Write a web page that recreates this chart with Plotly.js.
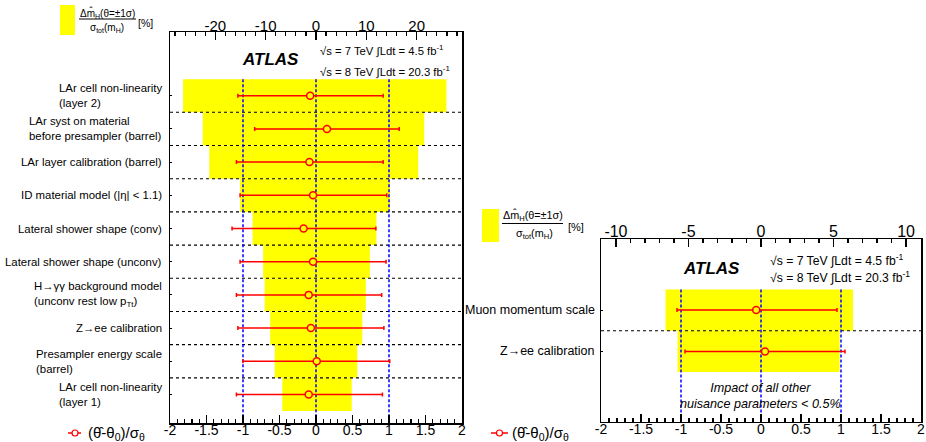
<!DOCTYPE html>
<html><head><meta charset="utf-8">
<script src="https://cdn.plot.ly/plotly-3.0.1.min.js"></script>
<style>html,body{margin:0;padding:0;background:#fff}#chart{width:926px;height:442px}</style>
</head><body><div id="chart"></div>
<script>
// ---------- DATA ----------
const categoriesA = [
  "LAr cell non-linearity<br>(layer 2)",
  "LAr syst on material<br>before presampler (barrel)",
  "LAr layer calibration (barrel)",
  "ID material model (|η| &lt; 1.1)",
  "Lateral shower shape (conv)",
  "Lateral shower shape (unconv)",
  "H→γγ background model<br>(unconv rest low p<sub>Tt</sub>)",
  "Z→ee calibration",
  "Presampler energy scale<br>(barrel)",
  "LAr cell non-linearity<br>(layer 1)"
];
const impactDownA = [-26.4, -22.5, -21.2, -15.1, -12.6, -10.5, -10.2, -9.1, -8.2, -6.7];
const impactUpA   = [25.9, 21.5, 20.3, 14.7, 12.0, 10.7, 9.9, 9.2, 8.2, 7.1];
const pullA       = [-0.08, 0.15, -0.09, -0.04, -0.17, -0.04, -0.10, -0.07, 0.01, -0.10];
const pullErrLowA = [0.99, 0.99, 1.00, 1.00, 0.98, 1.00, 0.99, 1.00, 1.01, 0.99];
const pullErrHighA= [1.00, 0.99, 1.01, 1.01, 0.99, 1.00, 1.00, 1.00, 1.00, 1.01];

const categoriesB = ["Muon momentum scale", "Z→ee calibration"];
const impactDownB = [-6.58, -5.75];
const impactUpB   = [6.34, 5.42];
const pullB       = [-0.06, 0.05];
const pullErrLowB = [0.99, 1.00];
const pullErrHighB= [1.01, 1.00];

const pullTickVals = [-2, -1.5, -1, -0.5, 0, 0.5, 1, 1.5, 2];
const pullTickText = ["-2", "-1.5", "-1", "-0.5", "0", "0.5", "1", "1.5", "2"];
const impactTickValsA = [-20, -10, 0, 10, 20];
const impactTickTextA = ["-20", "-10", "0", "10", "20"];
const impactTickValsB = [-10, -5, 0, 5, 10];
const impactTickTextB = ["-10", "-5", "0", "5", "10"];
const refPulls = [-1, 0, 1];

// ---------- GEOMETRY ----------
const W = 926, H = 442;
const px = v => v / W, py = v => 1 - v / H;
const font = "Liberation Sans, Arial, Helvetica, sans-serif";

const panelA = {dx: [px(170), px(462)], dy: [py(423), py(32)], yr: [9.86, -1.92], xr: [-29, 29]};
const panelB = {dx: [px(601), px(921)], dy: [py(421.7), py(239)], yr: [2.70, -1.72], xr: [-11.03, 11.03]};

function minorVals(lo, hi, step) {
  const n = Math.round((hi - lo) / step);
  return Array.from({length: n + 1}, (_, i) => +(lo + i * step).toFixed(6));
}

function buildPanel(cats, dn, up, pull, eLo, eHi, P, xImp, xPull, yax) {
  const idx = cats.map((c, i) => i);
  const out = [];
  const barCommon = {type: 'bar', orientation: 'h', y: idx, width: 1, xaxis: xImp, yaxis: yax,
    marker: {color: '#ffff00', line: {width: 0}}, hoverinfo: 'skip', showlegend: false};
  out.push(Object.assign({}, barCommon, {x: dn}));
  out.push(Object.assign({}, barCommon, {x: up}));
  const hx = [], hy = [];
  for (let i = 0; i < cats.length - 1; i++) { hx.push(pullTickVals[0], pullTickVals[pullTickVals.length - 1], null); hy.push(i + 0.5, i + 0.5, null); }
  out.push({type: 'scatter', mode: 'lines', x: hx, y: hy, xaxis: xPull, yaxis: yax,
    line: {color: '#000', width: 1.1, dash: '3px,3px'}, hoverinfo: 'skip', showlegend: false});
  const vx = [], vy = [];
  refPulls.forEach(r => { vx.push(r, r, null); vy.push(-0.5, P.yr[0], null); });
  out.push({type: 'scatter', mode: 'lines', x: vx, y: vy, xaxis: xPull, yaxis: yax,
    line: {color: '#0000ff', width: 1.5, dash: '3px,2px'}, hoverinfo: 'skip', showlegend: false});
  out.push({type: 'scatter', mode: 'markers', x: pull, y: idx, xaxis: xPull, yaxis: yax,
    marker: {symbol: 'circle', size: 7, color: '#ffff00', line: {color: '#ff0000', width: 1.5}},
    error_x: {type: 'data', symmetric: false, array: eHi, arrayminus: eLo, color: '#ff0000', thickness: 1.5, width: 2},
    hoverinfo: 'skip', showlegend: false});
  return out;
}

const data = [].concat(
  buildPanel(categoriesA, impactDownA, impactUpA, pullA, pullErrLowA, pullErrHighA, panelA, 'x', 'x2', 'y'),
  buildPanel(categoriesB, impactDownB, impactUpB, pullB, pullErrLowB, pullErrHighB, panelB, 'x3', 'x4', 'y2')
);

function impAxis(P, yanchor, tv, tt, minorStep, fs) {
  const lim = Math.floor(P.xr[1] / minorStep) * minorStep;
  return {domain: P.dx, anchor: yanchor, side: 'top', range: P.xr, tickmode: 'array', tickvals: tv, ticktext: tt,
    ticks: 'inside', ticklen: 8, tickwidth: 1.2, tickcolor: '#000', ticklabelstandoff: -6,
    minor: {tickmode: 'array', tickvals: minorVals(-lim, lim, minorStep), ticks: 'inside', ticklen: 4, tickwidth: 1.2, tickcolor: '#000', showgrid: false},
    showline: true, linecolor: '#000', linewidth: 1.5, showgrid: false, zeroline: false,
    tickfont: {size: fs, color: '#000', family: font}, fixedrange: true};
}
function pullAxis(overl, yanchor, fs) {
  return {overlaying: overl, anchor: yanchor, side: 'bottom', range: [-2, 2], tickmode: 'array',
    tickvals: pullTickVals, ticktext: pullTickText,
    ticks: 'inside', ticklen: 8, tickwidth: 1.2, tickcolor: '#000', ticklabelstandoff: -6,
    minor: {tickmode: 'array', tickvals: minorVals(-2, 2, 0.1), ticks: 'inside', ticklen: 4, tickwidth: 1.2, tickcolor: '#000', showgrid: false},
    showline: true, linecolor: '#000', linewidth: 1.5, showgrid: false, zeroline: false,
    tickfont: {size: fs, color: '#000', family: font}, fixedrange: true};
}
function catAxis(P, xanchor, n) {
  return {domain: P.dy, anchor: xanchor, range: P.yr, tickmode: 'array', tickvals: Array.from({length: n}, (_, i) => i),
    showticklabels: false, ticks: 'inside', ticklen: 2, tickcolor: '#000',
    showline: true, mirror: true, linecolor: '#000', linewidth: 1.5, showgrid: false, zeroline: false, fixedrange: true};
}

const annotations = [];
categoriesA.forEach((c, i) => annotations.push({xref: 'paper', yref: 'y', x: panelA.dx[0], y: i, xshift: -6,
  xanchor: 'right', yanchor: 'middle', align: 'left', text: c, showarrow: false, font: {size: 11.4, color: '#000'}}));
categoriesB.forEach((c, i) => annotations.push({xref: 'paper', yref: 'y2', x: panelB.dx[0], y: i, xshift: -4,
  xanchor: 'right', yanchor: 'middle', align: 'left', text: c, showarrow: false, font: {size: 12.5, color: '#000'}}));

function txt(x, y, text, size, anchor, extra) {
  return Object.assign({xref: 'paper', yref: 'paper', x: px(x), y: py(y), text: text, showarrow: false,
    xanchor: anchor || 'center', yanchor: 'middle', font: {size: size, color: '#000'}}, extra || {});
}
annotations.push(txt(270.8, 59.3, '<b><i>ATLAS</i></b>', 17));
annotations.push(txt(318, 50, '√s = 7 TeV ∫Ldt = 4.5 fb<sup>-1</sup>', 11.3, 'left'));
annotations.push(txt(318, 71.7, '√s = 8 TeV ∫Ldt = 20.3 fb<sup>-1</sup>', 11.3, 'left'));
annotations.push(txt(107.3, 12.5, 'Δm̂<sub>H</sub>(θ=±1σ)', 10));
annotations.push(txt(107.3, 28, 'σ<sub>tot</sub>(m<sub>H</sub>)', 10));
annotations.push(txt(145.3, 23.3, '[%]', 10.5));
annotations.push(txt(86, 433, '(θ̂-θ<sub>0</sub>)/σ<sub>θ</sub>', 15, 'left'));
annotations.push(txt(711, 268.3, '<b><i>ATLAS</i></b>', 17));
annotations.push(txt(767.7, 260, '√s = 7 TeV ∫Ldt = 4.5 fb<sup>-1</sup>', 12.2, 'left'));
annotations.push(txt(767.7, 276.5, '√s = 8 TeV ∫Ldt = 20.3 fb<sup>-1</sup>', 12.2, 'left'));
annotations.push(txt(532.5, 215, 'Δm̂<sub>H</sub>(θ=±1σ)', 10.8));
annotations.push(txt(534, 234, 'σ<sub>tot</sub>(m<sub>H</sub>)', 10.8));
annotations.push(txt(576, 226.7, '[%]', 11));
annotations.push(txt(510, 433, '(θ̂-θ<sub>0</sub>)/σ<sub>θ</sub>', 15, 'left'));
annotations.push(txt(760, 396, '<i>Impact of all other<br>nuisance parameters &lt; 0.5%</i>', 12.6));

function rectPx(x0, y0, x1, y1, fill) {
  return {type: 'rect', xref: 'paper', yref: 'paper', x0: px(x0), x1: px(x1), y0: py(y1), y1: py(y0),
    fillcolor: fill, line: {width: 0}, layer: 'above'};
}
function linePx(x0, y0, x1, y1, color, w) {
  return {type: 'line', xref: 'paper', yref: 'paper', x0: px(x0), x1: px(x1), y0: py(y0), y1: py(y1),
    line: {color: color, width: w}, layer: 'above'};
}
function circlePx(cx, cy, r) {
  return {type: 'circle', xref: 'paper', yref: 'paper', x0: px(cx - r), x1: px(cx + r), y0: py(cy + r), y1: py(cy - r),
    fillcolor: '#ffffff', line: {color: '#ff0000', width: 1.2}, layer: 'above'};
}
const shapes = [
  rectPx(60, 5, 75, 35, '#ffff00'),
  linePx(79, 19, 136, 19, '#000', 1),
  rectPx(482, 209, 499, 242, '#ffff00'),
  linePx(502, 223.5, 563, 223.5, '#000', 1),
  linePx(68, 433, 81, 433, '#ff0000', 1.5), circlePx(75, 433, 3),
  linePx(491, 433, 508, 433, '#ff0000', 1.5), circlePx(499.5, 433, 3)
];

const layout = {
  width: W, height: H, margin: {l: 0, r: 0, t: 0, b: 0},
  paper_bgcolor: '#fff', plot_bgcolor: '#fff',
  font: {family: font, color: '#000'},
  barmode: 'overlay', showlegend: false,
  xaxis: impAxis(panelA, 'y', impactTickValsA, impactTickTextA, 2, 15),
  xaxis2: pullAxis('x', 'y', 14),
  yaxis: catAxis(panelA, 'x', categoriesA.length),
  xaxis3: impAxis(panelB, 'y2', impactTickValsB, impactTickTextB, 1, 16),
  xaxis4: pullAxis('x3', 'y2', 14),
  yaxis2: catAxis(panelB, 'x3', categoriesB.length),
  annotations: annotations,
  shapes: shapes
};

Plotly.newPlot('chart', data, layout, {staticPlot: true, displayModeBar: false});
</script>
</body></html>
